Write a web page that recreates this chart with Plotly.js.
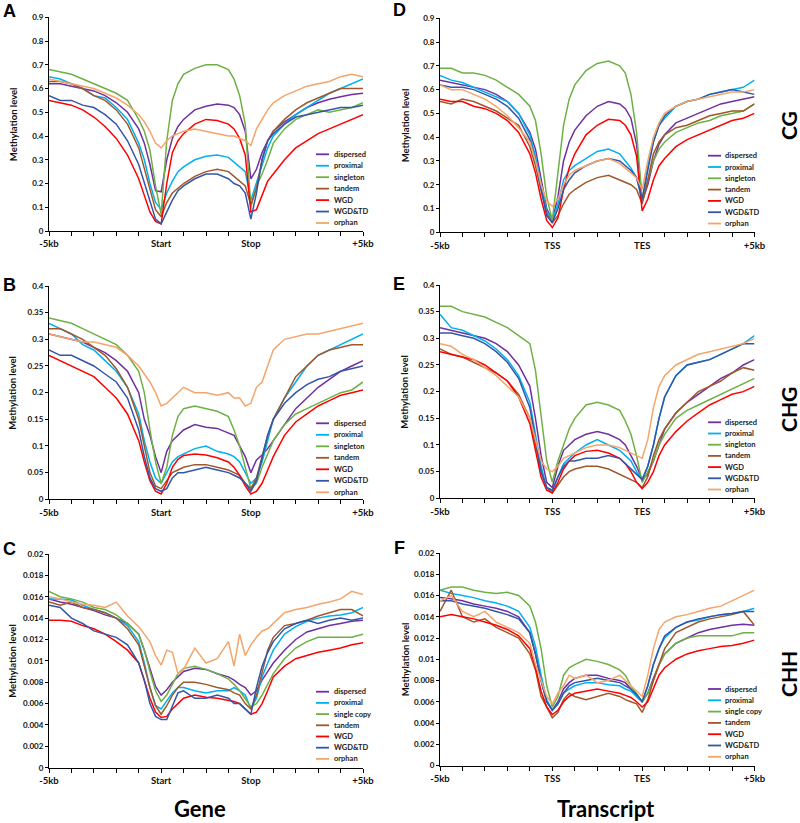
<!DOCTYPE html>
<html><head><meta charset="utf-8">
<script src="https://cdn.plot.ly/plotly-3.0.1.min.js"></script>
<style>html,body{margin:0;padding:0;background:#fff}#chart{width:800px;height:823px}</style>
</head><body><div id="chart"></div>
<script>
// ---------- data ----------
const POS = [0,0.5,1,1.5,2,2.5,3,3.5,4,4.25,4.5,4.75,5,5.25,5.5,5.75,6,6.5,7,7.5,8,8.25,8.5,8.75,9,9.25,9.5,9.75,10,10.5,11,11.5,12,12.5,13,13.5,14];
const TICK_POS = [0,1,2,3,4,5,6,7,8,9,10,11,12,13,14];
const GENE_TICKS = ['-5kb','','','','','Start','','','','Stop','','','','','+5kb'];
const TRANSCRIPT_TICKS = ['-5kb','','','','','TSS','','','','TES','','','','','+5kb'];
const SERIES_MAIN = ['dispersed','proximal','singleton','tandem','WGD','WGD&TD','orphan'];
const SERIES_CHH = ['dispersed','proximal','single copy','tandem','WGD','WGD&TD','orphan'];
const CONTEXTS = ['CG','CHG','CHH'];
const BOTTOM_TITLES = ['Gene','Transcript'];
const PANEL_LETTERS = ['A','B','C','D','E','F'];

// A: CG, gene
const A_disp  = [0.62,0.62,0.61,0.60,0.59,0.57,0.54,0.50,0.43,0.37,0.28,0.17,0.165,0.30,0.39,0.44,0.47,0.51,0.525,0.535,0.53,0.52,0.49,0.42,0.22,0.26,0.33,0.38,0.42,0.46,0.49,0.52,0.54,0.555,0.565,0.575,0.58];
const A_prox  = [0.65,0.64,0.62,0.60,0.57,0.56,0.52,0.47,0.37,0.30,0.20,0.12,0.09,0.16,0.21,0.25,0.27,0.30,0.315,0.32,0.31,0.29,0.27,0.25,0.13,0.20,0.28,0.35,0.40,0.45,0.49,0.52,0.55,0.58,0.60,0.62,0.64];
const A_single= [0.68,0.67,0.66,0.64,0.62,0.60,0.58,0.55,0.47,0.42,0.34,0.19,0.07,0.38,0.55,0.62,0.66,0.685,0.70,0.70,0.68,0.64,0.57,0.45,0.10,0.19,0.24,0.30,0.37,0.43,0.47,0.49,0.51,0.50,0.51,0.52,0.54];
const A_tand  = [0.63,0.63,0.62,0.60,0.57,0.55,0.51,0.45,0.35,0.26,0.17,0.09,0.06,0.12,0.16,0.18,0.20,0.23,0.25,0.26,0.25,0.23,0.21,0.19,0.11,0.18,0.30,0.38,0.42,0.47,0.51,0.54,0.56,0.58,0.60,0.60,0.60];
const A_wgd   = [0.55,0.54,0.53,0.51,0.48,0.44,0.39,0.32,0.22,0.15,0.08,0.04,0.03,0.20,0.33,0.38,0.41,0.45,0.47,0.465,0.45,0.43,0.39,0.32,0.08,0.09,0.15,0.21,0.24,0.30,0.35,0.38,0.41,0.43,0.45,0.47,0.49];
const A_wgdtd = [0.57,0.55,0.55,0.53,0.52,0.49,0.45,0.38,0.28,0.20,0.12,0.05,0.03,0.08,0.13,0.17,0.19,0.22,0.24,0.24,0.22,0.20,0.19,0.16,0.05,0.16,0.30,0.38,0.41,0.45,0.48,0.49,0.50,0.51,0.52,0.52,0.53];
const A_orph  = [0.64,0.63,0.62,0.61,0.60,0.58,0.56,0.53,0.49,0.46,0.42,0.37,0.35,0.38,0.40,0.41,0.42,0.43,0.42,0.41,0.40,0.40,0.39,0.38,0.36,0.43,0.47,0.51,0.54,0.57,0.59,0.61,0.62,0.63,0.65,0.66,0.65];

// B: CHG, gene
const B_disp  = [0.31,0.305,0.30,0.295,0.285,0.275,0.26,0.24,0.20,0.15,0.12,0.08,0.05,0.09,0.11,0.12,0.13,0.14,0.135,0.133,0.125,0.12,0.10,0.08,0.05,0.074,0.083,0.095,0.11,0.14,0.17,0.19,0.21,0.225,0.24,0.25,0.26];
const B_prox  = [0.33,0.32,0.31,0.29,0.28,0.26,0.24,0.21,0.16,0.11,0.07,0.04,0.03,0.05,0.07,0.08,0.085,0.095,0.10,0.09,0.085,0.08,0.07,0.05,0.03,0.04,0.07,0.11,0.15,0.19,0.22,0.25,0.27,0.28,0.29,0.30,0.31];
const B_single= [0.34,0.335,0.33,0.32,0.31,0.30,0.29,0.27,0.24,0.20,0.13,0.07,0.03,0.06,0.12,0.155,0.17,0.175,0.17,0.165,0.155,0.13,0.10,0.06,0.02,0.03,0.06,0.085,0.11,0.14,0.16,0.17,0.18,0.19,0.20,0.205,0.22];
const B_tand  = [0.32,0.32,0.31,0.30,0.285,0.27,0.245,0.21,0.15,0.10,0.05,0.025,0.02,0.035,0.05,0.055,0.06,0.065,0.065,0.06,0.055,0.05,0.045,0.03,0.02,0.04,0.08,0.12,0.15,0.19,0.23,0.25,0.27,0.28,0.285,0.29,0.29];
const B_wgd   = [0.27,0.26,0.25,0.24,0.23,0.21,0.19,0.16,0.11,0.07,0.035,0.015,0.01,0.03,0.06,0.075,0.082,0.085,0.083,0.078,0.07,0.06,0.045,0.025,0.01,0.015,0.03,0.055,0.08,0.12,0.145,0.16,0.175,0.185,0.195,0.20,0.205];
const B_wgdtd = [0.28,0.27,0.27,0.26,0.25,0.235,0.22,0.19,0.13,0.08,0.04,0.02,0.015,0.02,0.04,0.05,0.05,0.055,0.06,0.055,0.05,0.045,0.04,0.03,0.015,0.035,0.08,0.12,0.15,0.18,0.20,0.215,0.225,0.23,0.24,0.245,0.25];
const B_orph  = [0.31,0.305,0.30,0.295,0.295,0.29,0.285,0.27,0.25,0.235,0.22,0.20,0.175,0.18,0.19,0.20,0.21,0.20,0.20,0.195,0.20,0.19,0.19,0.175,0.18,0.21,0.22,0.25,0.28,0.30,0.305,0.31,0.31,0.315,0.32,0.325,0.33];

// C: CHH, gene
const C_disp  = [0.0158,0.0155,0.0153,0.015,0.0147,0.0143,0.014,0.0135,0.0125,0.011,0.0092,0.0076,0.0068,0.0073,0.008,0.0085,0.009,0.0093,0.0092,0.0088,0.0085,0.0082,0.0078,0.0075,0.0068,0.0072,0.0082,0.009,0.0098,0.011,0.012,0.0127,0.013,0.0133,0.0135,0.0137,0.0138];
const C_prox  = [0.0158,0.0158,0.0157,0.0152,0.0148,0.0145,0.014,0.0133,0.0118,0.0098,0.0075,0.0058,0.0055,0.0062,0.007,0.0075,0.0075,0.0072,0.007,0.0072,0.0072,0.0075,0.0072,0.0068,0.0055,0.0065,0.0085,0.0098,0.011,0.0125,0.0132,0.0137,0.014,0.0142,0.0143,0.0145,0.015];
const C_single= [0.0165,0.016,0.0158,0.0155,0.015,0.0148,0.0143,0.0135,0.0125,0.011,0.009,0.0072,0.0062,0.0068,0.0078,0.0088,0.0093,0.0095,0.0092,0.0088,0.0083,0.0078,0.0072,0.0065,0.0057,0.006,0.0068,0.0078,0.0088,0.0102,0.0112,0.0118,0.0122,0.0122,0.0122,0.0122,0.0125];
const C_tand  = [0.0155,0.0152,0.0155,0.015,0.0148,0.0145,0.014,0.013,0.0115,0.0095,0.0075,0.0058,0.005,0.0058,0.0068,0.0075,0.008,0.008,0.0078,0.0075,0.0073,0.007,0.0068,0.006,0.0055,0.0068,0.0088,0.011,0.0122,0.0133,0.0135,0.0138,0.0142,0.0145,0.0148,0.0148,0.0142];
const C_wgd   = [0.0138,0.0138,0.0137,0.0133,0.013,0.0125,0.0118,0.011,0.0098,0.0082,0.0065,0.0052,0.0047,0.0048,0.0055,0.006,0.0065,0.0068,0.0066,0.0065,0.0063,0.0062,0.006,0.0055,0.005,0.0052,0.006,0.0072,0.0085,0.0095,0.0102,0.0105,0.0108,0.011,0.0112,0.0115,0.0117];
const C_wgdtd = [0.0152,0.015,0.014,0.0135,0.0128,0.0125,0.0122,0.0115,0.0098,0.0082,0.006,0.0048,0.0045,0.0045,0.0058,0.007,0.0072,0.0065,0.0065,0.0068,0.0065,0.006,0.006,0.0055,0.005,0.0075,0.0095,0.0108,0.0118,0.013,0.0135,0.0138,0.0135,0.0138,0.014,0.0138,0.014];
const C_orph  = [0.016,0.0158,0.0155,0.0153,0.0152,0.015,0.0155,0.0142,0.0132,0.0125,0.0118,0.0105,0.0096,0.011,0.0108,0.0088,0.0092,0.0112,0.0098,0.0102,0.0118,0.0095,0.0125,0.0105,0.0115,0.0122,0.0128,0.013,0.0135,0.0145,0.0148,0.015,0.0153,0.0155,0.0158,0.0165,0.0162];

// D: CG, transcript
const D_disp  = [0.64,0.63,0.62,0.61,0.60,0.58,0.55,0.50,0.42,0.35,0.22,0.10,0.05,0.15,0.30,0.38,0.43,0.49,0.53,0.55,0.54,0.52,0.48,0.37,0.13,0.20,0.30,0.37,0.41,0.46,0.48,0.50,0.52,0.54,0.55,0.56,0.57];
const D_prox  = [0.66,0.64,0.63,0.61,0.59,0.57,0.55,0.50,0.41,0.32,0.20,0.09,0.05,0.12,0.22,0.26,0.28,0.31,0.34,0.35,0.33,0.30,0.27,0.23,0.13,0.28,0.38,0.45,0.48,0.53,0.55,0.56,0.58,0.59,0.60,0.61,0.64];
const D_single= [0.69,0.69,0.67,0.67,0.66,0.64,0.61,0.58,0.53,0.47,0.33,0.15,0.05,0.25,0.45,0.56,0.62,0.68,0.71,0.72,0.70,0.67,0.58,0.42,0.14,0.22,0.30,0.35,0.38,0.42,0.44,0.46,0.47,0.49,0.50,0.51,0.54];
const D_tand  = [0.55,0.54,0.56,0.55,0.53,0.51,0.48,0.45,0.36,0.28,0.18,0.08,0.04,0.07,0.12,0.16,0.18,0.21,0.23,0.24,0.22,0.21,0.20,0.18,0.12,0.22,0.33,0.38,0.41,0.44,0.45,0.47,0.49,0.50,0.51,0.51,0.54];
const D_wgd   = [0.56,0.55,0.55,0.53,0.52,0.50,0.47,0.42,0.33,0.25,0.14,0.05,0.02,0.06,0.18,0.27,0.33,0.41,0.45,0.475,0.47,0.45,0.41,0.32,0.09,0.14,0.22,0.28,0.31,0.36,0.39,0.41,0.43,0.45,0.47,0.48,0.50];
const D_wgdtd = [0.62,0.61,0.61,0.60,0.58,0.56,0.53,0.48,0.39,0.30,0.18,0.07,0.04,0.10,0.18,0.22,0.25,0.28,0.30,0.31,0.30,0.28,0.26,0.23,0.14,0.26,0.38,0.45,0.49,0.53,0.55,0.56,0.58,0.59,0.60,0.59,0.58];
const D_orph  = [0.62,0.60,0.60,0.58,0.56,0.53,0.49,0.44,0.38,0.30,0.20,0.13,0.11,0.14,0.20,0.24,0.26,0.28,0.30,0.31,0.29,0.27,0.25,0.23,0.18,0.30,0.40,0.46,0.50,0.53,0.55,0.56,0.57,0.58,0.59,0.59,0.60];

// E: CHG, transcript
const E_disp  = [0.32,0.315,0.31,0.305,0.30,0.29,0.275,0.25,0.21,0.15,0.08,0.03,0.02,0.06,0.09,0.10,0.11,0.12,0.125,0.12,0.11,0.10,0.08,0.06,0.035,0.045,0.07,0.10,0.13,0.16,0.18,0.195,0.21,0.225,0.235,0.25,0.26];
const E_prox  = [0.345,0.32,0.315,0.305,0.295,0.28,0.26,0.23,0.18,0.12,0.06,0.02,0.015,0.04,0.065,0.075,0.085,0.10,0.11,0.10,0.09,0.08,0.07,0.05,0.035,0.06,0.10,0.15,0.19,0.23,0.25,0.255,0.26,0.27,0.28,0.29,0.305];
const E_single= [0.36,0.36,0.35,0.345,0.34,0.33,0.32,0.305,0.29,0.24,0.15,0.07,0.03,0.07,0.10,0.13,0.15,0.175,0.18,0.175,0.165,0.145,0.12,0.08,0.03,0.05,0.07,0.10,0.12,0.15,0.165,0.175,0.185,0.195,0.205,0.215,0.225];
const E_tand  = [0.28,0.27,0.265,0.255,0.245,0.235,0.22,0.195,0.15,0.10,0.05,0.02,0.01,0.025,0.04,0.05,0.055,0.06,0.06,0.055,0.045,0.04,0.035,0.03,0.02,0.04,0.08,0.11,0.13,0.16,0.18,0.20,0.21,0.22,0.235,0.245,0.24];
const E_wgd   = [0.275,0.27,0.265,0.26,0.25,0.235,0.22,0.19,0.14,0.09,0.04,0.015,0.01,0.03,0.055,0.07,0.08,0.088,0.09,0.085,0.075,0.065,0.05,0.03,0.018,0.03,0.05,0.08,0.10,0.125,0.145,0.16,0.175,0.185,0.195,0.20,0.21];
const E_wgdtd = [0.31,0.31,0.305,0.30,0.29,0.275,0.255,0.225,0.17,0.11,0.05,0.02,0.015,0.04,0.06,0.07,0.07,0.075,0.075,0.08,0.075,0.065,0.055,0.045,0.035,0.06,0.10,0.15,0.19,0.23,0.25,0.255,0.26,0.27,0.28,0.29,0.29];
const E_orph  = [0.29,0.285,0.27,0.26,0.245,0.23,0.21,0.19,0.15,0.11,0.07,0.055,0.05,0.06,0.075,0.08,0.085,0.095,0.10,0.10,0.095,0.09,0.085,0.08,0.075,0.11,0.17,0.21,0.23,0.25,0.26,0.27,0.275,0.28,0.285,0.29,0.30];

// F: CHH, transcript
const F_disp  = [0.0158,0.0157,0.0155,0.0152,0.015,0.0148,0.0145,0.014,0.0125,0.0105,0.008,0.006,0.0052,0.006,0.0072,0.0078,0.0082,0.0085,0.0085,0.0082,0.008,0.0078,0.0072,0.0065,0.006,0.0068,0.0082,0.0095,0.0105,0.0115,0.012,0.0125,0.0128,0.013,0.0132,0.0133,0.0132];
const F_prox  = [0.0165,0.0162,0.016,0.0158,0.0155,0.0153,0.015,0.0145,0.013,0.0112,0.0085,0.0062,0.0052,0.0058,0.0068,0.0072,0.0075,0.0078,0.0078,0.0076,0.0075,0.0072,0.007,0.0065,0.006,0.0075,0.0095,0.011,0.012,0.013,0.0135,0.0137,0.014,0.0142,0.0143,0.0145,0.0148];
const F_single= [0.0165,0.0168,0.0168,0.0165,0.0163,0.0162,0.0163,0.016,0.015,0.0135,0.011,0.0075,0.0055,0.0065,0.0085,0.0092,0.0095,0.01,0.0098,0.0095,0.009,0.0085,0.0075,0.0068,0.006,0.0068,0.008,0.0095,0.0105,0.0115,0.012,0.0122,0.0122,0.0122,0.0122,0.0125,0.0125];
const F_tand  = [0.0145,0.0165,0.014,0.0135,0.0138,0.013,0.0125,0.012,0.0105,0.009,0.0065,0.0055,0.0045,0.005,0.0062,0.0068,0.0065,0.0062,0.0065,0.0068,0.0065,0.0062,0.006,0.0058,0.005,0.0062,0.008,0.0095,0.011,0.0125,0.013,0.0135,0.0138,0.014,0.0142,0.0145,0.0132];
const F_wgd   = [0.014,0.0142,0.014,0.0138,0.0135,0.0132,0.0128,0.0122,0.011,0.0092,0.007,0.0055,0.0048,0.0052,0.006,0.0065,0.0068,0.007,0.0072,0.007,0.0068,0.0066,0.0064,0.006,0.0055,0.006,0.0072,0.0085,0.0092,0.01,0.0105,0.0108,0.011,0.0112,0.0113,0.0115,0.0118];
const F_wgdtd = [0.0155,0.0155,0.0152,0.015,0.0148,0.0145,0.0142,0.0138,0.0125,0.0105,0.008,0.006,0.0052,0.0058,0.0068,0.0075,0.0078,0.008,0.0082,0.008,0.0078,0.0075,0.0072,0.0067,0.006,0.0075,0.0095,0.011,0.0122,0.013,0.0135,0.0138,0.014,0.0142,0.0143,0.0145,0.0145];
const F_orph  = [0.0155,0.016,0.0145,0.014,0.0145,0.0135,0.013,0.0125,0.0115,0.0095,0.008,0.0065,0.0058,0.0068,0.0075,0.0085,0.0082,0.0085,0.0078,0.008,0.0085,0.008,0.0075,0.007,0.0065,0.0085,0.011,0.0128,0.0135,0.014,0.0142,0.0145,0.0148,0.015,0.0155,0.016,0.0165];

// ---------- styling / layout ----------
const COLORS = ['#7030A0','#00B0F0','#6DB144','#A0582A','#FF0000','#3356A8','#F5A46A'];
const W = 800, H = 823;
const px = v => v / W, py = v => 1 - v / H;
const FONT = 'Lato, "Open Sans", sans-serif';

const COLS = [
  {x0: 49, x1: 363, legLine: [316, 329], legText: 332, yTitle: 13, letter: 9},
  {x0: 440, x1: 754.5, legLine: [708, 721], legText: 723, yTitle: 405, letter: 399}
];
const PANELS = [
  {col: 0, top: 17.3, bot: 231,   ymax: 0.9,  dtick: 0.1,   series: [A_disp,A_prox,A_single,A_tand,A_wgd,A_wgdtd,A_orph], names: SERIES_MAIN, ticks: GENE_TICKS, legTop: 154.3, legStep: 11.45, letterY: 11},
  {col: 0, top: 286,  bot: 499.3, ymax: 0.4,  dtick: 0.05,  series: [B_disp,B_prox,B_single,B_tand,B_wgd,B_wgdtd,B_orph], names: SERIES_MAIN, ticks: GENE_TICKS, legTop: 423.3, legStep: 11.5, letterY: 285},
  {col: 0, top: 554,  bot: 767.7, ymax: 0.02, dtick: 0.002, series: [C_disp,C_prox,C_single,C_tand,C_wgd,C_wgdtd,C_orph], names: SERIES_CHH, ticks: GENE_TICKS, legTop: 691.7, legStep: 11.2, letterY: 549},
  {col: 1, top: 18.3, bot: 232.3, ymax: 0.9,  dtick: 0.1,   series: [D_disp,D_prox,D_single,D_tand,D_wgd,D_wgdtd,D_orph], names: SERIES_MAIN, ticks: TRANSCRIPT_TICKS, legTop: 155.7, legStep: 11.3, letterY: 10},
  {col: 1, top: 285,  bot: 498.3, ymax: 0.4,  dtick: 0.05,  series: [E_disp,E_prox,E_single,E_tand,E_wgd,E_wgdtd,E_orph], names: SERIES_MAIN, ticks: TRANSCRIPT_TICKS, legTop: 422.3, legStep: 11.2, letterY: 284},
  {col: 1, top: 553,  bot: 765.5, ymax: 0.02, dtick: 0.002, series: [F_disp,F_prox,F_single,F_tand,F_wgd,F_wgdtd,F_orph], names: SERIES_CHH, ticks: TRANSCRIPT_TICKS, legTop: 689, legStep: 11.3, letterY: 548}
];

const traces = [];
const layout = {
  width: W, height: H,
  margin: {l: 0, r: 0, t: 0, b: 0, pad: 0},
  paper_bgcolor: '#fff', plot_bgcolor: '#fff',
  showlegend: false,
  font: {family: FONT, color: '#111'},
  annotations: [], shapes: []
};

PANELS.forEach((p, i) => {
  const n = i + 1;
  const xa = 'x' + (n === 1 ? '' : n), ya = 'y' + (n === 1 ? '' : n);
  const c = COLS[p.col];
  layout['xaxis' + (n === 1 ? '' : n)] = {
    domain: [px(c.x0), px(c.x1)], anchor: ya, range: [0, 14],
    showgrid: false, zeroline: false, showline: true, linecolor: '#000', linewidth: 1,
    ticks: 'outside', ticklen: 4, tickwidth: 1, tickcolor: '#000',
    tickmode: 'array', tickvals: TICK_POS, ticktext: p.ticks,
    tickfont: {family: FONT, size: 9.5, weight: 'bold', color: '#111'}
  };
  layout['yaxis' + (n === 1 ? '' : n)] = {
    domain: [py(p.bot), py(p.top)], anchor: xa, range: [0, p.ymax],
    showgrid: false, zeroline: false, showline: true, linecolor: '#000', linewidth: 1,
    ticks: 'outside', ticklen: 3, tickwidth: 1, tickcolor: '#000',
    tick0: 0, dtick: p.dtick,
    tickfont: {family: FONT, size: 8, weight: 'bold', color: '#111'}
  };
  p.series.forEach((vals, k) => {
    traces.push({
      type: 'scatter', mode: 'lines', x: POS, y: vals, xaxis: xa, yaxis: ya,
      name: p.names[k], line: {color: COLORS[k], width: 1.5}, hoverinfo: 'skip'
    });
  });
  // legend
  p.names.forEach((nm, k) => {
    const yy = p.legTop + k * p.legStep;
    layout.shapes.push({type: 'line', xref: 'paper', yref: 'paper',
      x0: px(c.legLine[0]), x1: px(c.legLine[1]), y0: py(yy), y1: py(yy),
      line: {color: COLORS[k], width: 1.8}});
    layout.annotations.push({xref: 'paper', yref: 'paper', x: px(c.legText), y: py(yy),
      xanchor: 'left', yanchor: 'middle', showarrow: false, text: nm,
      font: {family: FONT, size: 7.5, weight: 'bold', color: '#222'}});
  });
  // y title
  layout.annotations.push({xref: 'paper', yref: 'paper', x: px(c.yTitle), y: py((p.top + p.bot) / 2),
    xanchor: 'center', yanchor: 'middle', showarrow: false, textangle: -90, text: 'Methylation level',
    font: {family: FONT, size: 9.5, weight: 'bold', color: '#111'}});
  // panel letter
  layout.annotations.push({xref: 'paper', yref: 'paper', x: px(c.letter), y: py(p.letterY),
    xanchor: 'center', yanchor: 'middle', showarrow: false, text: PANEL_LETTERS[i],
    font: {family: 'Liberation Sans, Arial, sans-serif', size: 18, weight: 'bold', color: '#000'}});
});

// context labels on right
[126, 410, 674].forEach((yy, k) => {
  layout.annotations.push({xref: 'paper', yref: 'paper', x: px(788), y: py(yy),
    xanchor: 'center', yanchor: 'middle', showarrow: false, textangle: -90, text: CONTEXTS[k],
    font: {family: FONT, size: 21, weight: 'bold', color: '#000'}});
});
// bottom titles
[200, 606].forEach((xx, k) => {
  layout.annotations.push({xref: 'paper', yref: 'paper', x: px(xx), y: py(808),
    xanchor: 'center', yanchor: 'middle', showarrow: false, text: BOTTOM_TITLES[k],
    font: {family: FONT, size: 22, weight: 'bold', color: '#000'}});
});

Plotly.newPlot('chart', traces, layout, {displayModeBar: false, staticPlot: true});
</script>
</body></html>
